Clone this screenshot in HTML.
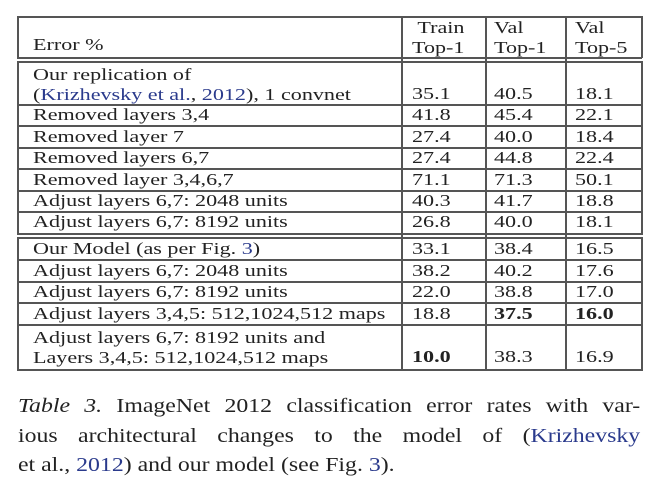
<!DOCTYPE html>
<html><head><meta charset="utf-8"><style>
body{margin:0;width:649px;height:493px;background:#fff;font-family:"Liberation Serif",serif;color:#222;position:relative;overflow:hidden}
.t{position:absolute;font-size:17px;white-space:nowrap;line-height:16px;transform:scaleX(1.3);transform-origin:0 0}
.h{position:absolute;height:1.5px;background:#555}
.v{position:absolute;width:1.5px;background:#555}
a{color:#2a3a8c;text-decoration:none}
.cap{position:absolute;left:18px;font-size:19.5px;white-space:nowrap;line-height:20px;transform:scaleX(1.22);transform-origin:0 0}
.j{width:510px;text-align:justify;text-align-last:justify;white-space:normal}
b{font-weight:bold}
</style></head><body>
<div>
<div class="h" style="left:17px;width:625px;top:16px"></div>
<div class="h" style="left:17px;width:625px;top:57px"></div>
<div class="h" style="left:17px;width:625px;top:61px"></div>
<div class="h" style="left:17px;width:625px;top:104px"></div>
<div class="h" style="left:17px;width:625px;top:125px"></div>
<div class="h" style="left:17px;width:625px;top:147px"></div>
<div class="h" style="left:17px;width:625px;top:168px"></div>
<div class="h" style="left:17px;width:625px;top:190px"></div>
<div class="h" style="left:17px;width:625px;top:211px"></div>
<div class="h" style="left:17px;width:625px;top:233px"></div>
<div class="h" style="left:17px;width:625px;top:237px"></div>
<div class="h" style="left:17px;width:625px;top:259px"></div>
<div class="h" style="left:17px;width:625px;top:281px"></div>
<div class="h" style="left:17px;width:625px;top:302px"></div>
<div class="h" style="left:17px;width:625px;top:324px"></div>
<div class="h" style="left:17px;width:625px;top:369px"></div>
<div class="v" style="left:17px;top:16px;height:42px"></div>
<div class="v" style="left:17px;top:61px;height:174px"></div>
<div class="v" style="left:17px;top:237px;height:134px"></div>
<div class="v" style="left:641px;top:16px;height:42px"></div>
<div class="v" style="left:641px;top:61px;height:174px"></div>
<div class="v" style="left:641px;top:237px;height:134px"></div>
<div class="v" style="left:401px;top:16px;height:355px"></div>
<div class="v" style="left:485px;top:16px;height:355px"></div>
<div class="v" style="left:565px;top:16px;height:355px"></div>

<div class="t" style="left:33px;top:37px">Error %</div>
<div class="t" style="left:412px;top:18px;text-align:right;line-height:20px">Train<br>Top-1</div>
<div class="t" style="left:494px;top:18px;line-height:20px">Val<br>Top-1</div>
<div class="t" style="left:575px;top:18px;line-height:20px">Val<br>Top-5</div>

<div class="t" style="left:33px;top:65px;line-height:20px">Our replication of<br>(<a>Krizhevsky et al.</a>, <a>2012</a>), 1 convnet</div>
<div class="t" style="left:412px;top:86px">35.1</div><div class="t" style="left:494px;top:86px">40.5</div><div class="t" style="left:575px;top:86px">18.1</div>

<div class="t" style="left:33px;top:107px">Removed layers 3,4</div>
<div class="t" style="left:412px;top:107px">41.8</div><div class="t" style="left:494px;top:107px">45.4</div><div class="t" style="left:575px;top:107px">22.1</div>
<div class="t" style="left:33px;top:129px">Removed layer 7</div>
<div class="t" style="left:412px;top:129px">27.4</div><div class="t" style="left:494px;top:129px">40.0</div><div class="t" style="left:575px;top:129px">18.4</div>
<div class="t" style="left:33px;top:150px">Removed layers 6,7</div>
<div class="t" style="left:412px;top:150px">27.4</div><div class="t" style="left:494px;top:150px">44.8</div><div class="t" style="left:575px;top:150px">22.4</div>
<div class="t" style="left:33px;top:172px">Removed layer 3,4,6,7</div>
<div class="t" style="left:412px;top:172px">71.1</div><div class="t" style="left:494px;top:172px">71.3</div><div class="t" style="left:575px;top:172px">50.1</div>
<div class="t" style="left:33px;top:193px">Adjust layers 6,7: 2048 units</div>
<div class="t" style="left:412px;top:193px">40.3</div><div class="t" style="left:494px;top:193px">41.7</div><div class="t" style="left:575px;top:193px">18.8</div>
<div class="t" style="left:33px;top:214px">Adjust layers 6,7: 8192 units</div>
<div class="t" style="left:412px;top:214px">26.8</div><div class="t" style="left:494px;top:214px">40.0</div><div class="t" style="left:575px;top:214px">18.1</div>

<div class="t" style="left:33px;top:241px">Our Model (as per Fig. <a>3</a>)</div>
<div class="t" style="left:412px;top:241px">33.1</div><div class="t" style="left:494px;top:241px">38.4</div><div class="t" style="left:575px;top:241px">16.5</div>
<div class="t" style="left:33px;top:263px">Adjust layers 6,7: 2048 units</div>
<div class="t" style="left:412px;top:263px">38.2</div><div class="t" style="left:494px;top:263px">40.2</div><div class="t" style="left:575px;top:263px">17.6</div>
<div class="t" style="left:33px;top:284px">Adjust layers 6,7: 8192 units</div>
<div class="t" style="left:412px;top:284px">22.0</div><div class="t" style="left:494px;top:284px">38.8</div><div class="t" style="left:575px;top:284px">17.0</div>
<div class="t" style="left:33px;top:306px">Adjust layers 3,4,5: 512,1024,512 maps</div>
<div class="t" style="left:412px;top:306px">18.8</div><div class="t" style="left:494px;top:306px"><b>37.5</b></div><div class="t" style="left:575px;top:306px"><b>16.0</b></div>
<div class="t" style="left:33px;top:328px;line-height:20px">Adjust layers 6,7: 8192 units and<br>Layers 3,4,5: 512,1024,512 maps</div>
<div class="t" style="left:412px;top:349px"><b>10.0</b></div><div class="t" style="left:494px;top:349px">38.3</div><div class="t" style="left:575px;top:349px">16.9</div>
</div>

<div>
<div class="cap j" style="top:397px"><i>Table 3.</i> ImageNet 2012 classification error rates with var-</div>
<div class="cap j" style="top:427px">ious architectural changes to the model of (<a>Krizhevsky</a></div>
<div class="cap" style="top:456px">et al., <a>2012</a>) and our model (see Fig. <a>3</a>).</div>
</div>
</body></html>
